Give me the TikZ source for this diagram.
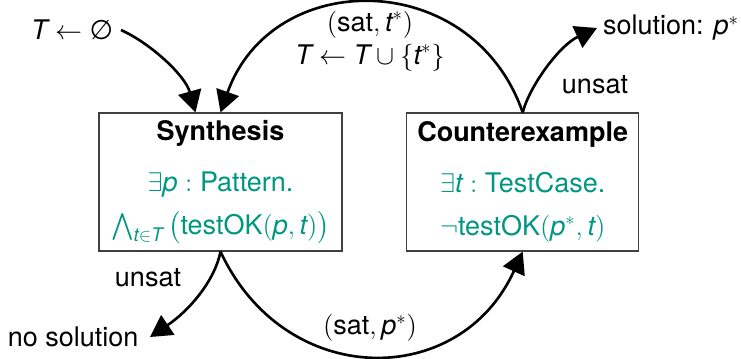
\documentclass[tikz,border=0pt]{standalone}
\usepackage{amsmath}
\usepackage{fontspec}
\setmainfont{TeX Gyre Heros}
\newfontfamily\symfont{DejaVu Sans}
\usetikzlibrary{arrows.meta,calc}
\definecolor{formula}{RGB}{0,150,130}
% italic sans letters and upright sans words inside formulas
\newcommand\mv[1]{\text{\itshape #1}}
\newcommand\tx[1]{\text{#1}}
\newcommand\emptyrun{\text{\symfont ∅}}

\begin{document}
\begin{tikzpicture}[x=0.5333pt,y=-0.5333pt,
  font=\Large,
  box/.style={draw=black!75, line width=0.65pt, minimum height=73.6pt,
    inner sep=0pt, align=center, text=formula},
  flow/.style={line width=1.4pt, -{Triangle[length=11.5pt,width=12.5pt]}},
  lbl/.style={inner sep=0pt}]
\useasboundingbox (0,0) rectangle (741,358);

% the two solver stages
\node[box, minimum width=129.6pt] (syn) at (220.5,182)
  {\textcolor{black}{\bfseries Synthesis}\\[9pt]
   $\exists\mv{p}:\tx{Pattern.}$\\[5pt]
   $\bigwedge_{\mv{t}\in\mv{T}}\,\bigl(\tx{testOK}(\mv{p},\mv{t})\bigr)$};
\node[box, minimum width=123.7pt] (cex) at (522.7,182)
  {\textcolor{black}{\bfseries Counterexample}\\[9pt]
   $\exists\mv{t}:\tx{TestCase.}$\\[5pt]
   $\neg\tx{testOK}(\mv{p}^*,\mv{t})$};

% entry and exit points
\node[inner sep=4pt, anchor=east] (init) at (121,30) {$\mv{T}\leftarrow\emptyrun$};
\node[inner sep=3pt, anchor=west] (sol) at (597,28) {solution: $\mv{p}^*$};
\node[inner sep=6pt, anchor=east] (nosol) at (150,337) {no solution};

% connectors
\draw[flow] (init.east) .. controls (150,43) and (185,75) .. ($(syn.north)+(-25,0)$);
\draw[flow] (cex.north) .. controls (472,-33) and (272,-33) .. (syn.north);
\draw[flow] (cex.north) .. controls (530,85) and (560,45) .. (sol.west);
\draw[flow] (syn.south) .. controls (215,280) and (190,310) .. (nosol.east);
\draw[flow] (syn.south) .. controls (285,390) and (460,390) .. (cex.south);

% edge labels
\node[lbl] (fb1) at (370,25) {$(\tx{sat}, \mv{t}^*)$};
\node[lbl] (fb2) at (370,58) {$\mv{T}\leftarrow\mv{T}\cup\{\mv{t}^*\}$};
\node[lbl] (uns1) at (595,85) {unsat};
\node[lbl] (uns2) at (148,278) {unsat};
\node[lbl] (fwd) at (370,328) {$(\tx{sat}, \mv{p}^*)$};
\end{tikzpicture}
\end{document}
